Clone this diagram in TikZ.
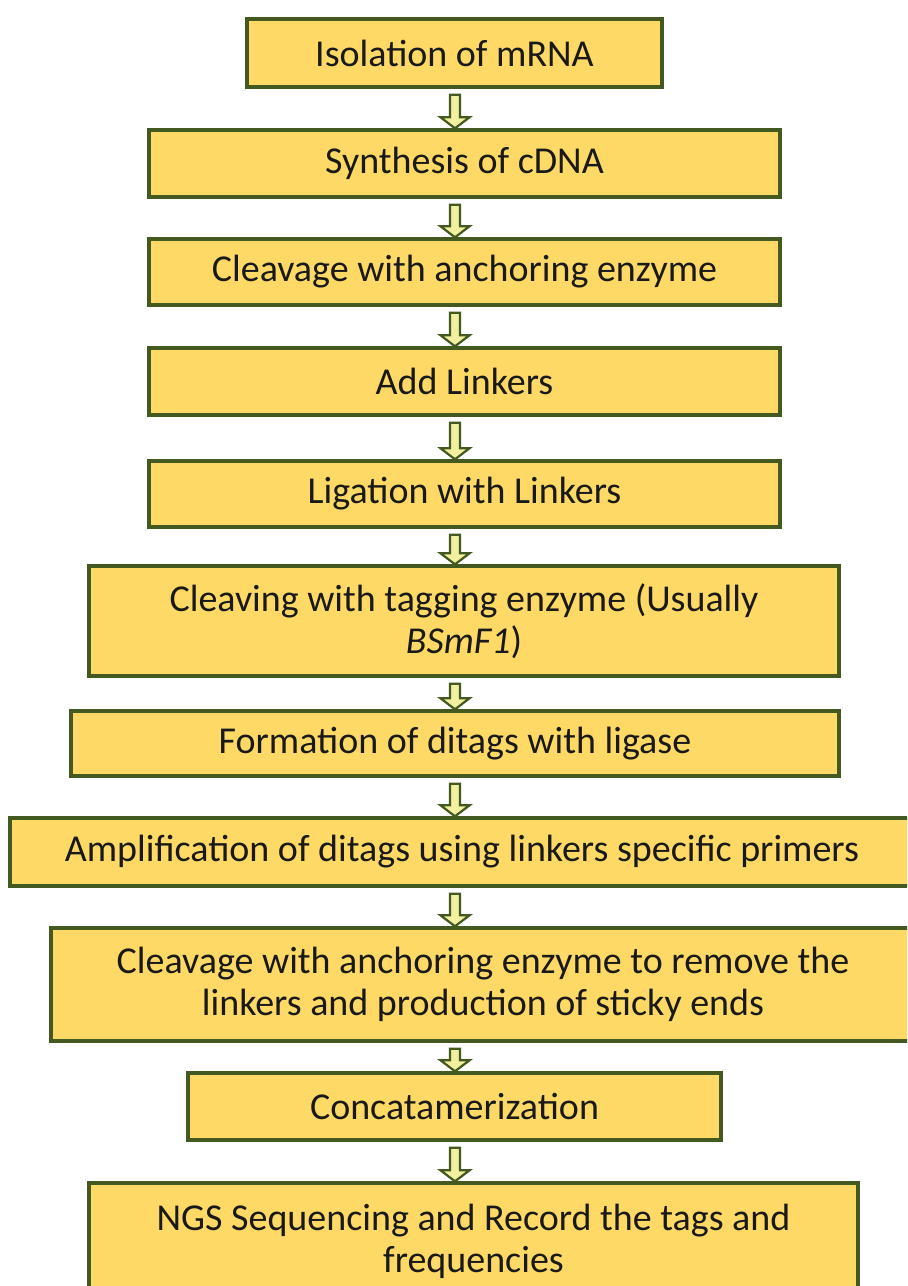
\documentclass[tikz,border=0pt]{standalone}
\usepackage{fontspec}
\setmainfont{Carlito}
\usetikzlibrary{calc}
\definecolor{boxfill}{HTML}{FFD966}
\definecolor{boxline}{HTML}{43591F}
\definecolor{arrowfill}{HTML}{F2EFA0}
\tikzset
{
    flownode/.style = {rectangle, draw=boxline, line width=1.7pt, fill=boxfill, align=center, inner sep=0pt, text=black!90, font=\fontsize{19}{21}\selectfont},
    flowarrow/.style = {draw=boxline, fill=arrowfill, line width=1.1pt, to path={let \p1=(\tikztostart), \p2=(\tikztotarget) in
        (\x1-2.5pt,\y1-3pt) -- (\x1-2.5pt,\y2+5.5pt) -- (\x1-7.25pt,\y2+5.5pt) -- (\x1,\y2) -- (\x1+7.25pt,\y2+5.5pt) -- (\x1+2.5pt,\y2+5.5pt) -- (\x1+2.5pt,\y1-3pt) -- cycle}}
}
\begin{document}
\begin{tikzpicture}[x=0.5pt, y=-0.5pt]
\useasboundingbox (0,0) rectangle (907,1286);
\clip (0,0) rectangle (907,1286);
\coordinate (axis) at (455,0);
\node[flownode, minimum width=207.5pt, minimum height=34pt] (isolation) at (454.5,53) {Isolation of mRNA};
\node[flownode, minimum width=315.5pt, minimum height=33.5pt] (synthesis) at (464.5,163.5) {Synthesis of cDNA};
\node[flownode, minimum width=315.5pt, minimum height=33pt] (cleavage) at (464.5,272) {Cleavage with anchoring enzyme};
\node[flownode, minimum width=315.5pt, minimum height=33.5pt] (linkers) at (464.5,381.5) {Add Linkers};
\node[flownode, minimum width=315.5pt, minimum height=33pt] (ligation) at (464.5,494) {Ligation with Linkers};
\node[flownode, minimum width=375pt, minimum height=55pt] (cleaving) at (464,621) {Cleaving with tagging enzyme (Usually\\\textit{BSmF1})};
\node[flownode, minimum width=384pt, minimum height=32.5pt] (ditags) at (455,743.5) {Formation of ditags with ligase};
\node[flownode, minimum width=452pt, minimum height=34pt] (amplify) at (462,852) {Amplification of ditags using linkers specific primers};
\node[flownode, minimum width=432pt, minimum height=56.5pt] (removal) at (483,984.5) {Cleavage with anchoring enzyme to remove the\\linkers and production of sticky ends};
\node[flownode, minimum width=266.5pt, minimum height=33.5pt] (concat) at (454.5,1106.5) {Concatamerization};
\node[flownode, minimum width=384.5pt, minimum height=58.5pt] (ngs) at (473.5,1241.5) {NGS Sequencing and Record the tags and\\frequencies};
% hollow arrows between the steps
\foreach \a/\b in {isolation/synthesis, synthesis/cleavage, cleavage/linkers, linkers/ligation, ligation/cleaving, cleaving/ditags, ditags/amplify, amplify/removal, removal/concat, concat/ngs}
    \draw[flowarrow] (axis |- \a.south) to (axis |- \b.north);
\end{tikzpicture}
\end{document}
